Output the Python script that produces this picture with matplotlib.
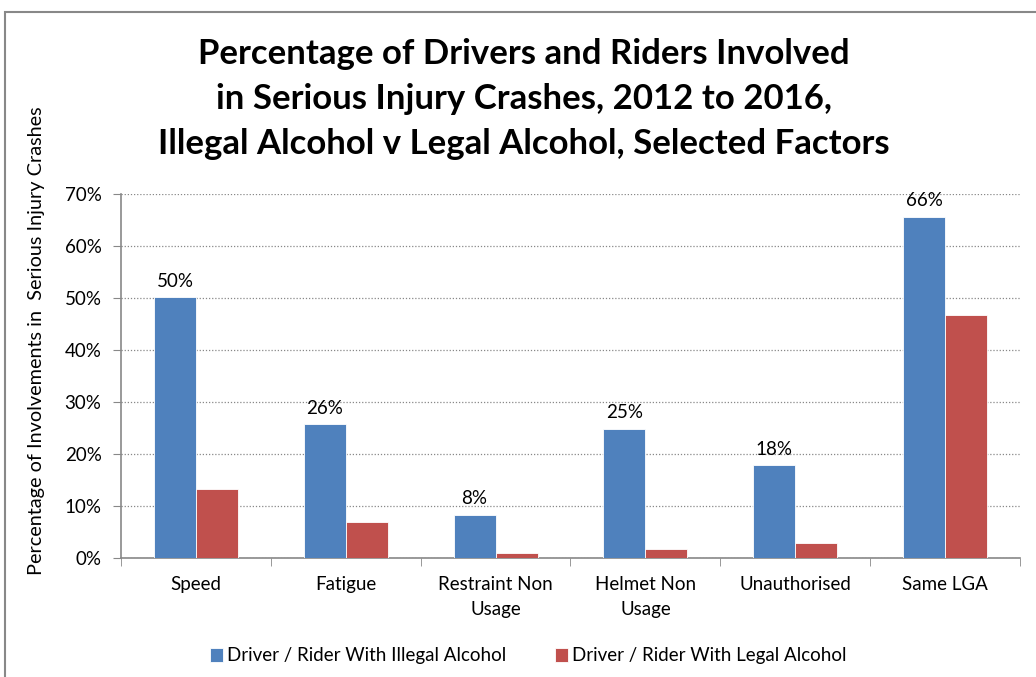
import matplotlib
matplotlib.use("Agg")
import matplotlib.pyplot as plt
import numpy as np
from matplotlib.patches import Rectangle

categories = ["Speed", "Fatigue", "Restraint Non\nUsage", "Helmet Non\nUsage", "Unauthorised", "Same LGA"]
illegal = [50.1, 25.7, 8.3, 24.8, 17.8, 65.6]
legal = [13.2, 6.9, 1.0, 1.7, 2.9, 46.7]
illegal_labels = ["50%", "26%", "8%", "25%", "18%", "66%"]
series_names = ["Driver / Rider With Illegal Alcohol", "Driver / Rider With Legal Alcohol"]
title = "Percentage of Drivers and Riders Involved\nin Serious Injury Crashes, 2012 to 2016,\nIllegal Alcohol v Legal Alcohol, Selected Factors"
ylabel = "Percentage of Involvements in  Serious Injury Crashes"

W, H = 1036, 677
fig = plt.figure(figsize=(W/100, H/100), dpi=100)
plt.rcParams['font.family'] = ['Lato', 'DejaVu Sans']

left, right, top, bottom = 121, 1020, 194, 558
ax = fig.add_axes([left/W, 1-bottom/H, (right-left)/W, (bottom-top)/H])

blue = "#4F81BD"
red = "#C0504D"
x = np.arange(len(categories))
bw = 0.28
ax.bar(x - bw/2, illegal, bw, color=blue, edgecolor="white", linewidth=0.6, label=series_names[0], zorder=3)
ax.bar(x + bw/2, legal, bw, color=red, edgecolor="white", linewidth=0.6, label=series_names[1], zorder=3)

for xi, v, lab in zip(x, illegal, illegal_labels):
    ax.text(xi - bw/2, v + 1.5, lab, ha="center", va="bottom", fontsize=13.5, color="black")

ax.set_xlim(-0.5, len(categories) - 0.5)
ax.set_ylim(0, 70)
ax.set_yticks(np.arange(0, 71, 10))
ax.set_yticklabels([f"{v}%" for v in range(0, 71, 10)], fontsize=13.5)
ax.set_xticks(x)
ax.set_xticklabels(categories, fontsize=13.5, linespacing=1.6)
ax.tick_params(axis="x", length=0, pad=13)
ax.set_xticks(np.arange(-0.5, len(categories), 1), minor=True)
ax.tick_params(axis="x", which="minor", length=6, color="#888888", direction="out")
ax.tick_params(axis="y", length=6, color="#888888", direction="out", pad=8)
ax.yaxis.grid(True, linestyle=(0, (1, 1.5)), color="#888888", linewidth=0.9, zorder=0)
for s in ["top", "right"]:
    ax.spines[s].set_visible(False)
for s in ["left", "bottom"]:
    ax.spines[s].set_color("#888888")
    ax.spines[s].set_linewidth(1.2)

fig.text(524/W, 1-99/H, title, ha="center", va="center", fontsize=25, fontweight="bold", linespacing=1.5)
fig.text(37/W, 1-341/H, ylabel, rotation=90, ha="center", va="center", fontsize=14.3)

handles, labels = ax.get_legend_handles_labels()
fig.legend(handles, labels, loc="center", bbox_to_anchor=(528/W, 1-656/H), ncol=2, frameon=False,
           fontsize=13.5, handlelength=0.7, handleheight=0.7, handletextpad=0.2, columnspacing=2.6)

fig.patches.append(Rectangle((5/W, -0.1), 1.2, 1-12/H+0.1, transform=fig.transFigure,
                             fill=False, edgecolor="#888888", linewidth=1.5))

fig.savefig("out.png", dpi=100)
